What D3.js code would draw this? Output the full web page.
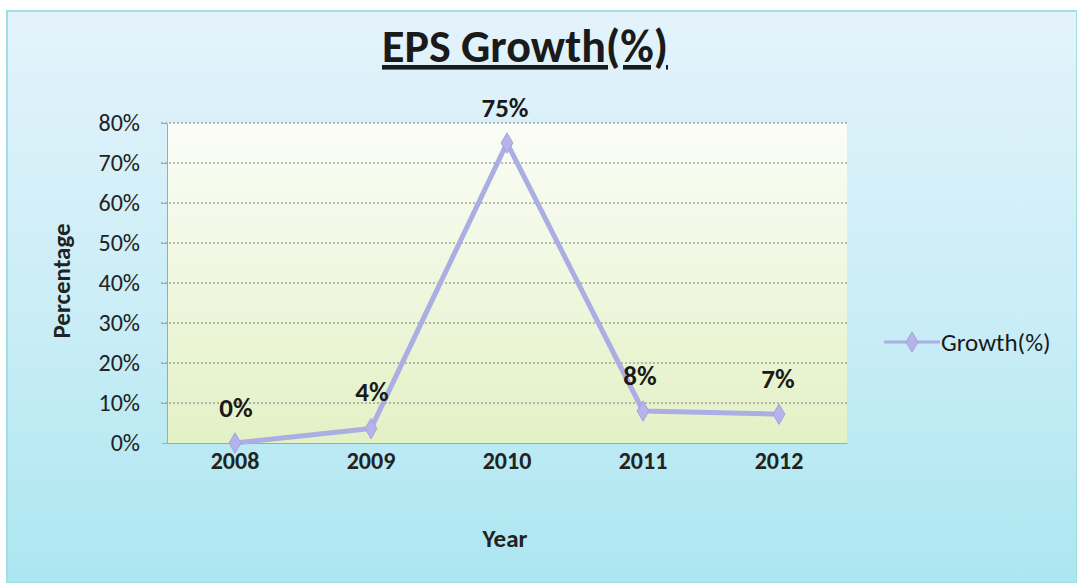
<!DOCTYPE html>
<html><head><meta charset="utf-8">
<script src="https://cdn.jsdelivr.net/npm/d3@7"></script>
<style>html,body{margin:0;padding:0;background:#fff;}svg{display:block;}</style>
</head><body>
<script>
const years = ["2008","2009","2010","2011","2012"];
const growth = [0.0, 0.036, 0.75, 0.08, 0.072];
const yTicks = [0,0.1,0.2,0.3,0.4,0.5,0.6,0.7,0.8];
const titleText = "EPS Growth(%)";
const seriesName = "Growth(%)";
const xTitle = "Year", yTitle = "Percentage";

const W = 1077, H = 583;
const font = "Carlito, Lato, 'Open Sans', sans-serif";
const svg = d3.select("body").append("svg").attr("width", W).attr("height", H);
const defs = svg.append("defs");
const bg = defs.append("linearGradient").attr("id","bg").attr("x1",0).attr("y1",0).attr("x2",0).attr("y2",1);
bg.append("stop").attr("offset","0%").attr("stop-color","#e4f3fb");
bg.append("stop").attr("offset","55%").attr("stop-color","#c9edf6");
bg.append("stop").attr("offset","100%").attr("stop-color","#ace6f0");
const pg = defs.append("linearGradient").attr("id","pg").attr("x1",0).attr("y1",0).attr("x2",0).attr("y2",1);
pg.append("stop").attr("offset","0%").attr("stop-color","#fbfdf7");
pg.append("stop").attr("offset","100%").attr("stop-color","#e3f1c6");

svg.append("rect").attr("x",7).attr("y",11).attr("width",W-7).attr("height",H-11)
  .attr("fill","url(#bg)").attr("stroke","#9fdfe6").attr("stroke-width",2);

const L = 167, R = 847, T = 123, B = 443;
const x = d3.scaleBand().domain(years).range([L,R]);
const y = d3.scaleLinear().domain([0,0.8]).range([B,T]);

svg.append("rect").attr("x",L).attr("y",T).attr("width",R-L).attr("height",B-T).attr("fill","url(#pg)");

// gridlines
svg.append("g").selectAll("line").data(yTicks.filter(d=>d>0)).join("line")
  .attr("x1",L-6).attr("x2",R).attr("y1",d=>y(d)).attr("y2",d=>y(d))
  .attr("stroke","#7a7f7a").attr("stroke-width",1).attr("stroke-dasharray","2,2");

// y axis
const yAxis = d3.axisLeft(y).tickValues(yTicks).tickFormat(d3.format(".0%")).tickSize(5).tickPadding(22);
const gy = svg.append("g").attr("transform",`translate(${L},0)`).call(yAxis);
gy.select(".domain").attr("stroke","#8fb0b8");
gy.selectAll(".tick line").attr("stroke","#8fb0b8");
gy.selectAll("text").attr("font-family",font).attr("font-size",24).attr("fill","#222");

// x axis
const xAxis = d3.axisBottom(x).tickSize(0).tickPadding(9);
const gx = svg.append("g").attr("transform",`translate(0,${B})`).call(xAxis);
gx.select(".domain").attr("stroke","#8fb0b8");
gx.selectAll("text").attr("font-family",font).attr("font-size",24).attr("font-weight","bold").attr("fill","#222");

// line
const cx = d => x(d) + x.bandwidth()/2;
const line = d3.line().x((d,i)=>cx(years[i])).y(d=>y(d));
svg.append("path").datum(growth).attr("d",line).attr("fill","none")
  .attr("stroke","#aaaee2").attr("stroke-width",5).attr("stroke-linejoin","round");
const diamond = d3.symbol().type(d3.symbolDiamond).size(120);
svg.append("g").selectAll("path").data(growth).join("path")
  .attr("d",diamond).attr("transform",(d,i)=>`translate(${cx(years[i])},${y(d)})`)
  .attr("fill","#b6b3ea").attr("stroke","#a4a2dc").attr("stroke-width",1);

// data labels
const lblOff = [[1,-35],[1,-37],[-2,-35],[-3,-35],[-1,-36]];
svg.append("g").selectAll("text").data(growth).join("text")
  .attr("x",(d,i)=>cx(years[i])+lblOff[i][0]).attr("y",(d,i)=>y(d)+lblOff[i][1]).attr("dy","0.35em")
  .attr("text-anchor","middle").attr("font-family",font).attr("font-size",27).attr("font-weight","bold")
  .attr("fill","#1a1a1a").text(d=>d3.format(".0%")(d));

// title
svg.append("text").attr("x",525).attr("y",62).attr("text-anchor","middle")
  .attr("font-family",font).attr("font-size",46).attr("font-weight","bold").attr("fill","#1a1a1a")
  .attr("text-decoration","underline").text(titleText);

// axis titles
svg.append("text").attr("x",505).attr("y",547).attr("text-anchor","middle")
  .attr("font-family",font).attr("font-size",25).attr("font-weight","bold").attr("fill","#222").text(xTitle);
svg.append("text").attr("transform","translate(70,281) rotate(-90)").attr("text-anchor","middle")
  .attr("font-family",font).attr("font-size",25).attr("font-weight","bold").attr("fill","#222").text(yTitle);

// legend
const lg = svg.append("g").attr("transform","translate(884,342)");
lg.append("line").attr("x1",0).attr("x2",56).attr("y1",0).attr("y2",0).attr("stroke","#aaaee2").attr("stroke-width",3);
lg.append("path").attr("d",diamond).attr("transform","translate(28,0)").attr("fill","#b6b3ea").attr("stroke","#a4a2dc");
lg.append("text").attr("x",57).attr("y",0).attr("dy","0.35em").attr("font-family",font).attr("font-size",25).attr("fill","#1a1a1a").text(seriesName);
</script>
</body></html>
